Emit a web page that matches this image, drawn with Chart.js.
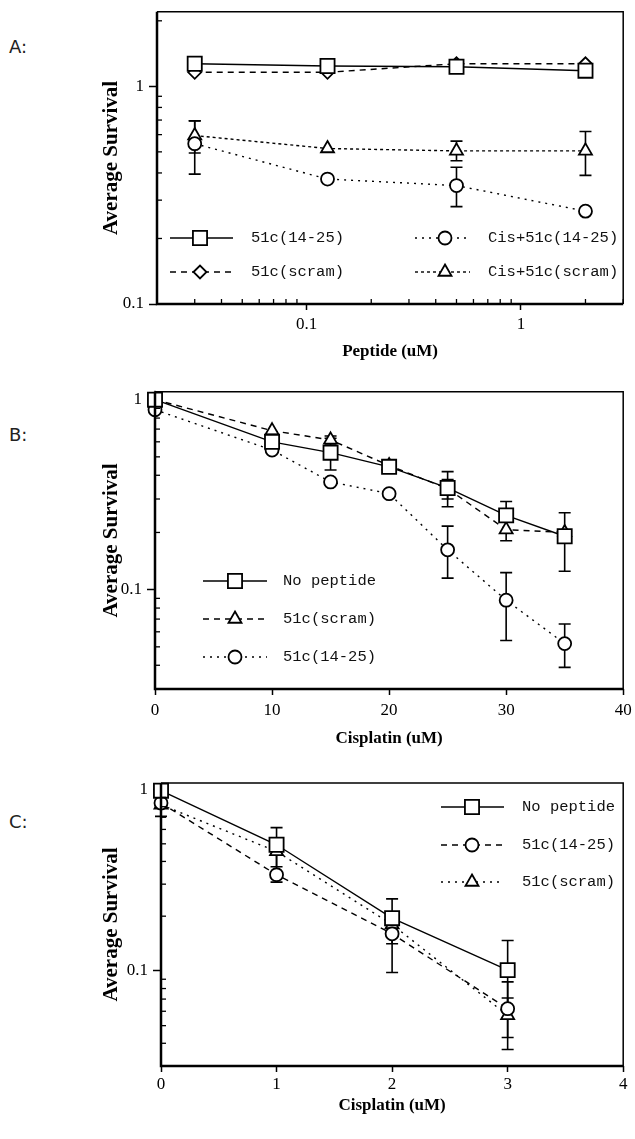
<!DOCTYPE html>
<html><head><meta charset="utf-8">
<script src="https://cdn.jsdelivr.net/npm/chart.js@4/dist/chart.umd.min.js"></script>
<style>
html,body{margin:0;padding:0;background:#fff;}
body{width:635px;height:1139px;position:relative;overflow:hidden;}
.panel{position:absolute;left:0;width:635px;}
.plabel{position:absolute;left:9px;font-family:"DejaVu Sans",sans-serif;font-size:18px;color:#222;line-height:1;}
canvas{display:block;}
</style></head><body>
<div class="plabel" style="top:38px">A:</div>
<div class="plabel" style="top:426px">B:</div>
<div class="plabel" style="top:813px">C:</div>
<div class="panel" style="top:0;height:380px"><canvas id="cA" width="635" height="380"></canvas></div>
<div class="panel" style="top:380px;height:390px"><canvas id="cB" width="635" height="390"></canvas></div>
<div class="panel" style="top:770px;height:369px"><canvas id="cC" width="635" height="369"></canvas></div>
<script>
// ---------- Panel A data ----------
const peptideConc = [0.03, 0.125, 0.5, 2];
const a51c1425 = [1.27, 1.24, 1.23, 1.18];
const a51cScram = [1.16, 1.16, 1.27, 1.27];
const aCis1425 = [0.545, 0.375, 0.35, 0.267];
const aCis1425ErrUp = [0.15, null, 0.075, null];
const aCis1425ErrDn = [0.15, null, 0.07, null];
const aCisScram = [0.594, 0.518, 0.505, 0.505];
const aCisScramErrUp = [0.1, null, 0.055, 0.115];
const aCisScramErrDn = [0.1, null, 0.05, 0.115];
const aLabels = ['51c(14-25)', '51c(scram)', 'Cis+51c(14-25)', 'Cis+51c(scram)'];

// ---------- Panel B data ----------
const cisplatinB = [0, 10, 15, 20, 25, 30, 35];
const bNoPep = [1.0, 0.60, 0.526, 0.443, 0.343, 0.246, 0.191];
const bNoPepErrUp = [null, null, 0.1, null, 0.075, 0.045, 0.063];
const bNoPepErrDn = [null, null, 0.1, null, 0.07, 0.045, 0.066];
const bScram = [1.0, 0.687, 0.614, 0.45, 0.34, 0.207, 0.2];
const bScramErrUp = [null, null, 0.03, null, 0.04, 0.026, null];
const bScramErrDn = [null, null, 0.03, null, 0.04, 0.026, null];
const b1425 = [0.885, 0.543, 0.369, 0.32, 0.162, 0.088, 0.052];
const b1425ErrUp = [null, null, null, null, 0.054, 0.035, 0.014];
const b1425ErrDn = [null, null, null, null, 0.047, 0.034, 0.013];
const bLabels = ['No peptide', '51c(scram)', '51c(14-25)'];

// ---------- Panel C data ----------
const cisplatinC = [0, 1, 2, 3];
const cNoPep = [0.98, 0.494, 0.195, 0.101];
const cNoPepErrUp = [null, 0.12, 0.054, 0.046];
const cNoPepErrDn = [null, 0.12, 0.054, 0.046];
const c1425 = [0.838, 0.338, 0.16, 0.062];
const c1425ErrUp = [null, 0.1, null, 0.025];
const c1425ErrDn = [0.13, 0.03, 0.062, 0.025];
const cScram = [0.82, 0.454, 0.18, 0.057];
const cScramErrUp = [null, 0.02, null, 0.014];
const cScramErrDn = [null, 0.02, null, 0.014];
const cLabels = ['No peptide', '51c(14-25)', '51c(scram)'];

// ---------- ticks ----------
const logMajorTicks = [0.1, 1];
const logMajorLabels = ['0.1', '1'];
const aXMinorTicks = [0.02,0.03,0.04,0.05,0.06,0.07,0.08,0.09,0.2,0.3,0.4,0.5,0.6,0.7,0.8,0.9,2,3];
const aYMinorTicks = [0.2,0.3,0.4,0.5,0.6,0.7,0.8,0.9,2];
const bcYMinorTicks = [0.04,0.05,0.06,0.07,0.08,0.09,0.2,0.3,0.4,0.5,0.6,0.7,0.8,0.9];
const bXTicks = [0, 10, 20, 30, 40];
const bXTickLabels = ['0', '10', '20', '30', '40'];
const cXTicks = [0, 1, 2, 3, 4];
const cXTickLabels = ['0', '1', '2', '3', '4'];

// ---------- helpers ----------
const MARK = {
  square: {pointStyle: 'rect', pointRadius: 10},
  circle: {pointStyle: 'circle', pointRadius: 6.5},
  triangle: {pointStyle: 'triangle', pointRadius: 7.5},
  diamond: {pointStyle: 'rectRot', pointRadius: 6.5}
};
const DASH = {solid: [], dashed: [6, 5], dotted: [2, 5], dense: [3, 3]};

function series(label, xs, ys, up, dn, mark, dash) {
  return Object.assign({
    label: label,
    data: xs.map((x, i) => ({x: x, y: ys[i]})),
    errUp: up, errDn: dn,
    borderColor: '#000', borderWidth: 1.4, borderDash: DASH[dash],
    pointBackgroundColor: '#fff', pointBorderColor: '#000', pointBorderWidth: 1.8,
    backgroundColor: '#fff', tension: 0, clip: false, fill: false
  }, MARK[mark]);
}

const errorBars = {
  id: 'errorBars',
  beforeDatasetsDraw(chart) {
    const ctx = chart.ctx, xs = chart.scales.x, ys = chart.scales.y;
    ctx.save();
    ctx.strokeStyle = '#000'; ctx.lineWidth = 1.6; ctx.setLineDash([]);
    chart.data.datasets.forEach(d => {
      d.data.forEach((p, j) => {
        const px = xs.getPixelForValue(p.x), py = ys.getPixelForValue(p.y);
        [[d.errUp, 1], [d.errDn, -1]].forEach(([arr, s]) => {
          const e = arr ? arr[j] : null;
          if (e == null) return;
          const ey = ys.getPixelForValue(p.y + s * e);
          ctx.beginPath();
          ctx.moveTo(px, py); ctx.lineTo(px, ey);
          ctx.moveTo(px - 6, ey); ctx.lineTo(px + 6, ey);
          ctx.stroke();
        });
      });
    });
    ctx.restore();
  }
};

const frameTicks = {
  id: 'frameTicks',
  afterDraw(chart, args, opts) {
    const ctx = chart.ctx, a = chart.chartArea;
    ctx.save();
    ctx.strokeStyle = '#000'; ctx.setLineDash([]);
    ctx.lineWidth = 1.5;
    ctx.beginPath(); ctx.moveTo(a.left, a.top); ctx.lineTo(a.right, a.top); ctx.lineTo(a.right, a.bottom); ctx.stroke();
    ctx.lineWidth = 2.5;
    ctx.beginPath(); ctx.moveTo(a.left, a.top); ctx.lineTo(a.left, a.bottom); ctx.lineTo(a.right, a.bottom); ctx.stroke();
    ctx.lineWidth = 1.3;
    (opts.yMinor || []).forEach(v => {
      const y = chart.scales.y.getPixelForValue(v);
      if (y < a.top || y > a.bottom) return;
      ctx.beginPath(); ctx.moveTo(a.left, y); ctx.lineTo(a.left + 5, y); ctx.stroke();
    });
    (opts.xMinor || []).forEach(v => {
      const x = chart.scales.x.getPixelForValue(v);
      if (x < a.left || x > a.right) return;
      ctx.beginPath(); ctx.moveTo(x, a.bottom); ctx.lineTo(x, a.bottom - 5); ctx.stroke();
    });
    ctx.restore();
  }
};

function drawMarker(ctx, d, x, y) {
  const opts = {pointStyle: d.pointStyle, radius: d.pointRadius, rotation: 0, borderWidth: d.pointBorderWidth};
  ctx.fillStyle = '#fff'; ctx.strokeStyle = '#000'; ctx.lineWidth = d.pointBorderWidth; ctx.setLineDash([]);
  if (Chart.helpers && Chart.helpers.drawPoint) { Chart.helpers.drawPoint(ctx, opts, x, y); return; }
  const r = d.pointRadius;
  ctx.beginPath();
  if (d.pointStyle === 'circle') ctx.arc(x, y, r, 0, Math.PI * 2);
  else if (d.pointStyle === 'rect') { const s = r * Math.SQRT1_2; ctx.rect(x - s, y - s, 2 * s, 2 * s); }
  else if (d.pointStyle === 'rectRot') { ctx.moveTo(x, y - r); ctx.lineTo(x + r, y); ctx.lineTo(x, y + r); ctx.lineTo(x - r, y); ctx.closePath(); }
  else { ctx.moveTo(x, y - r); ctx.lineTo(x + r * 0.866, y + r / 2); ctx.lineTo(x - r * 0.866, y + r / 2); ctx.closePath(); }
  ctx.fill(); ctx.stroke();
}

const manualLegend = {
  id: 'manualLegend',
  afterDraw(chart, args, opts) {
    const ctx = chart.ctx;
    ctx.save();
    (opts.items || []).forEach(it => {
      const d = chart.data.datasets[it.ds];
      ctx.strokeStyle = '#000'; ctx.lineWidth = d.borderWidth; ctx.setLineDash(d.borderDash || []);
      ctx.beginPath(); ctx.moveTo(it.x0, it.y); ctx.lineTo(it.x1, it.y); ctx.stroke();
      drawMarker(ctx, d, it.mx, it.y);
      ctx.fillStyle = '#111'; ctx.font = '15.5px "Liberation Mono", "DejaVu Sans Mono", monospace';
      ctx.textBaseline = 'middle'; ctx.textAlign = 'left';
      ctx.fillText(d.label, it.tx, it.y);
    });
    ctx.restore();
  }
};

const tickFont = {family: '"Liberation Serif", "DejaVu Serif", serif', size: 17};
const titleFontY = {family: '"Liberation Serif", "DejaVu Serif", serif', size: 21, weight: 'bold'};
const titleFontX = {family: '"Liberation Serif", "DejaVu Serif", serif', size: 17, weight: 'bold'};

function noPad(s) { s.paddingLeft = 0; s.paddingRight = 0; s.paddingTop = 0; s.paddingBottom = 0; }

function yLogAxis(min, max, width) {
  return {
    type: 'logarithmic', position: 'left', min: min, max: max,
    afterBuildTicks: s => { s.ticks = logMajorTicks.map(v => ({value: v})); },
    afterFit: s => { s.width = width; noPad(s); },
    ticks: {font: tickFont, color: '#000', padding: 5, autoSkip: false,
            callback: (v, i) => logMajorLabels[logMajorTicks.indexOf(v)]},
    grid: {display: true, drawOnChartArea: false, drawTicks: true, tickLength: 8, tickColor: '#000', tickWidth: 1.5},
    border: {display: false},
    title: {display: true, text: 'Average Survival', font: titleFontY, color: '#000', padding: {top: 99, bottom: 0}}
  };
}

function makeChart(id, datasets, xScale, yScale, pad, minor, legendItems) {
  return new Chart(document.getElementById(id), {
    type: 'line',
    data: {datasets: datasets},
    options: {
      responsive: false, animation: false, devicePixelRatio: 1,
      layout: {padding: pad},
      scales: {x: xScale, y: yScale},
      plugins: {legend: {display: false}, tooltip: {enabled: false},
                frameTicks: minor, manualLegend: {items: legendItems}}
    },
    plugins: [errorBars, frameTicks, manualLegend]
  });
}

// ---------- Panel A ----------
makeChart('cA', [
  series(aLabels[0], peptideConc, a51c1425, null, null, 'square', 'solid'),
  series(aLabels[1], peptideConc, a51cScram, null, null, 'diamond', 'dashed'),
  series(aLabels[2], peptideConc, aCis1425, aCis1425ErrUp, aCis1425ErrDn, 'circle', 'dotted'),
  series(aLabels[3], peptideConc, aCisScram, aCisScramErrUp, aCisScramErrDn, 'triangle', 'dense')
], {
  type: 'logarithmic', position: 'bottom', min: 0.02, max: 3,
  afterBuildTicks: s => { s.ticks = logMajorTicks.map(v => ({value: v})); },
  afterFit: s => { s.height = 76; noPad(s); },
  ticks: {font: tickFont, color: '#000', padding: 4, autoSkip: false, maxRotation: 0,
          callback: (v) => logMajorLabels[logMajorTicks.indexOf(v)]},
  grid: {display: true, drawOnChartArea: false, drawTicks: true, tickLength: 6, tickColor: '#000', tickWidth: 1.5},
  border: {display: false},
  title: {display: true, text: 'Peptide (uM)', font: titleFontX, color: '#000', padding: {top: 0, bottom: 18}}
}, yLogAxis(0.1, 2.2, 157), {top: 11, right: 2, left: 0, bottom: 0},
{xMinor: aXMinorTicks, yMinor: aYMinorTicks},
[
  {ds: 0, x0: 170, x1: 233, mx: 200, tx: 251, y: 238},
  {ds: 1, x0: 170, x1: 233, mx: 200, tx: 251, y: 272},
  {ds: 2, x0: 415, x1: 470, mx: 445, tx: 488, y: 238},
  {ds: 3, x0: 415, x1: 470, mx: 445, tx: 488, y: 272}
]);

// ---------- Panel B ----------
makeChart('cB', [
  series(bLabels[0], cisplatinB, bNoPep, bNoPepErrUp, bNoPepErrDn, 'square', 'solid'),
  series(bLabels[1], cisplatinB, bScram, bScramErrUp, bScramErrDn, 'triangle', 'dashed'),
  series(bLabels[2], cisplatinB, b1425, b1425ErrUp, b1425ErrDn, 'circle', 'dotted')
], {
  type: 'linear', position: 'bottom', min: 0, max: 40,
  afterBuildTicks: s => { s.ticks = bXTicks.map(v => ({value: v})); },
  afterFit: s => { s.height = 81; noPad(s); },
  ticks: {font: tickFont, color: '#000', padding: 5, autoSkip: false, maxRotation: 0,
          callback: (v) => bXTickLabels[bXTicks.indexOf(v)]},
  grid: {display: true, drawOnChartArea: false, drawTicks: true, tickLength: 6, tickColor: '#000', tickWidth: 1.5},
  border: {display: false},
  title: {display: true, text: 'Cisplatin (uM)', font: titleFontX, color: '#000', padding: {top: 0, bottom: 21}}
}, yLogAxis(0.03, 1.1, 155), {top: 10, right: 7, left: 0, bottom: 0},
{yMinor: bcYMinorTicks},
[
  {ds: 0, x0: 203, x1: 267, mx: 235, tx: 283, y: 201},
  {ds: 1, x0: 203, x1: 267, mx: 235, tx: 283, y: 239},
  {ds: 2, x0: 203, x1: 267, mx: 235, tx: 283, y: 277}
]);

// ---------- Panel C ----------
makeChart('cC', [
  series(cLabels[0], cisplatinC, cNoPep, cNoPepErrUp, cNoPepErrDn, 'square', 'solid'),
  series(cLabels[1], cisplatinC, c1425, c1425ErrUp, c1425ErrDn, 'circle', 'dashed'),
  series(cLabels[2], cisplatinC, cScram, cScramErrUp, cScramErrDn, 'triangle', 'dotted')
], {
  type: 'linear', position: 'bottom', min: 0, max: 4,
  afterBuildTicks: s => { s.ticks = cXTicks.map(v => ({value: v})); },
  afterFit: s => { s.height = 73; noPad(s); },
  ticks: {font: tickFont, color: '#000', padding: 2, autoSkip: false, maxRotation: 0,
          callback: (v) => cXTickLabels[cXTicks.indexOf(v)]},
  grid: {display: true, drawOnChartArea: false, drawTicks: true, tickLength: 6, tickColor: '#000', tickWidth: 1.5},
  border: {display: false},
  title: {display: true, text: 'Cisplatin (uM)', font: titleFontX, color: '#000', padding: {top: 0, bottom: 23}}
}, yLogAxis(0.03, 1.08, 161), {top: 13, right: 8, left: 0, bottom: 0},
{yMinor: bcYMinorTicks},
[
  {ds: 0, x0: 441, x1: 504, mx: 472, tx: 522, y: 37},
  {ds: 1, x0: 441, x1: 504, mx: 472, tx: 522, y: 75},
  {ds: 2, x0: 441, x1: 504, mx: 472, tx: 522, y: 112}
]);
</script>
</body></html>
